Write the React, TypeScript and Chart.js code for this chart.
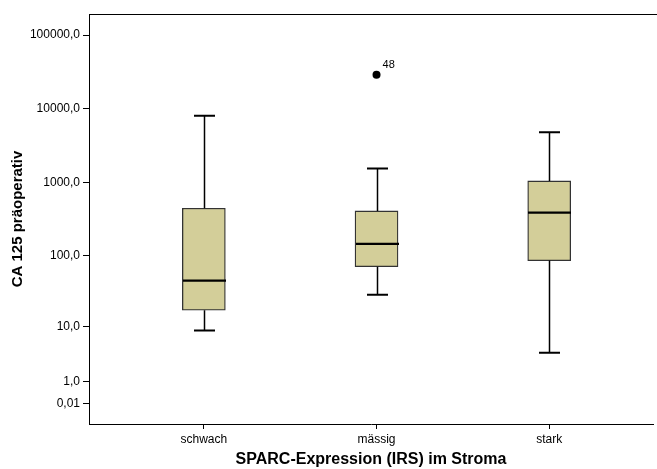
import React, { useEffect, useRef } from 'react';
import { Chart, registerables, LinearScale } from 'chart.js';

// ---- data ----
const CATEGORIES = ['schwach', 'mässig', 'stark'];
const WHISKER_LOW = [8.8, 29, 3.9];
const Q1 = [17.5, 71, 86];
const MEDIAN = [45.5, 146, 388];
const Q3 = [446, 410, 1047];
const WHISKER_HIGH = [8000, 1540, 4800];
const OUTLIER_CATEGORY = [1];
const OUTLIER_VALUE = [29000];
const OUTLIER_LABEL = ['48'];
const Y_TICK_VALUES = [0.01, 1, 10, 100, 1000, 10000, 100000];
const Y_TICK_LABELS = ['0,01', '1,0', '10,0', '100,0', '1000,0', '10000,0', '100000,0'];
const X_TITLE = 'SPARC-Expression (IRS) im Stroma';
const Y_TITLE = 'CA 125 präoperativ';

const BOX_FILL = 'rgb(211,206,153)';
const FONT = "'Liberation Sans', Arial, sans-serif";

// SPSS "safe log" transform: sign(v) * log10(1 + |v|)
const sl = (v: number) => Math.sign(v) * Math.log10(1 + Math.abs(v));
const isl = (t: number) => Math.sign(t) * (Math.pow(10, Math.abs(t)) - 1);

class SafeLogScale extends LinearScale {
  static id = 'safelog';
  static defaults = LinearScale.defaults;
  buildTicks() {
    return Y_TICK_VALUES.map((v) => ({ value: v }));
  }
  getPixelForValue(value: number) {
    const a = sl(this.min as number);
    const b = sl(this.max as number);
    return this.getPixelForDecimal((sl(value) - a) / (b - a));
  }
  getValueForPixel(pixel: number) {
    const a = sl(this.min as number);
    const b = sl(this.max as number);
    return isl(a + this.getDecimalForPixel(pixel) * (b - a));
  }
}

Chart.register(...registerables, SafeLogScale as any);

const boxPlugin = {
  id: 'boxExtras',
  afterDatasetsDraw(chart: any) {
    const { ctx, scales, chartArea } = chart;
    const x = scales.x;
    const y = scales.y;
    const half = 21.5;
    const cap = 10.5;
    ctx.save();
    ctx.strokeStyle = '#000';
    CATEGORIES.forEach((_, i) => {
      const cx = Math.round(x.getPixelForValue(i)) + 0.5;
      const yHi = y.getPixelForValue(WHISKER_HIGH[i]);
      const yQ3 = y.getPixelForValue(Q3[i]);
      const yQ1 = y.getPixelForValue(Q1[i]);
      const yLo = y.getPixelForValue(WHISKER_LOW[i]);
      const yMed = y.getPixelForValue(MEDIAN[i]);
      ctx.lineWidth = 1.5;
      ctx.beginPath();
      ctx.moveTo(cx, yHi);
      ctx.lineTo(cx, yQ3);
      ctx.moveTo(cx, yQ1);
      ctx.lineTo(cx, yLo);
      ctx.stroke();
      ctx.lineWidth = 2;
      ctx.beginPath();
      ctx.moveTo(cx - cap, yHi);
      ctx.lineTo(cx + cap, yHi);
      ctx.moveTo(cx - cap, yLo);
      ctx.lineTo(cx + cap, yLo);
      ctx.stroke();
      ctx.lineWidth = 2.2;
      ctx.beginPath();
      ctx.moveTo(cx - half, yMed);
      ctx.lineTo(cx + half, yMed);
      ctx.stroke();
    });
    ctx.fillStyle = '#000';
    ctx.font = `11px ${FONT}`;
    ctx.textAlign = 'left';
    ctx.textBaseline = 'middle';
    OUTLIER_VALUE.forEach((v, i) => {
      const px = x.getPixelForValue(OUTLIER_CATEGORY[i]);
      const py = y.getPixelForValue(v);
      ctx.fillText(OUTLIER_LABEL[i], px + 6, py - 10);
    });
    ctx.lineWidth = 1;
    ctx.beginPath();
    ctx.moveTo(chartArea.left, Math.round(chartArea.top) + 0.5);
    ctx.lineTo(chart.width, Math.round(chartArea.top) + 0.5);
    ctx.stroke();
    ctx.restore();
  },
};

export default function App() {
  const ref = useRef<HTMLCanvasElement | null>(null);
  useEffect(() => {
    if (!ref.current) return;
    const chart = new Chart(ref.current, {
      type: 'bar',
      data: {
        datasets: [
          {
            type: 'bar',
            data: CATEGORIES.map((_, i) => ({ x: i, y: [Q1[i], Q3[i]] })) as any,
            backgroundColor: BOX_FILL,
            borderColor: '#333',
            borderWidth: 1.3,
            borderSkipped: false,
            barThickness: 43,
          } as any,
          {
            type: 'scatter',
            data: OUTLIER_VALUE.map((v, i) => ({ x: OUTLIER_CATEGORY[i], y: v })),
            pointRadius: 4,
            pointBackgroundColor: '#000',
            pointBorderColor: '#000',
            pointBorderWidth: 0,
          } as any,
        ],
      },
      options: {
        responsive: false,
        animation: false,
        devicePixelRatio: 1,
        layout: { padding: { left: 0, top: 14, right: 0, bottom: 0 } },
        plugins: {
          legend: { display: false },
          tooltip: { enabled: false },
        },
        scales: {
          x: {
            type: 'linear',
            offset: false,
            min: -0.665,
            max: 2.601,
            afterBuildTicks: (s: any) => {
              s.ticks = CATEGORIES.map((_, i) => ({ value: i }));
            },
            afterFit: (s: any) => {
              s.height = 45;
            },
            ticks: {
              autoSkip: false,
              maxRotation: 0,
              padding: 3,
              color: '#000',
              font: { family: FONT, size: 12 },
              callback: (v: any) => CATEGORIES[v as number],
            },
            grid: {
              offset: false,
              drawOnChartArea: false,
              drawTicks: true,
              tickLength: 5,
              tickColor: '#000',
              tickWidth: 1,
            },
            border: { display: true, color: '#000', width: 1 },
            title: {
              display: true,
              text: X_TITLE,
              color: '#000',
              font: { family: FONT, size: 16, weight: 'bold' },
              padding: { top: 0, bottom: 0 },
            },
          } as any,
          y: {
            type: 'safelog' as any,
            min: -0.892,
            max: 192800,
            afterFit: (s: any) => {
              s.width = 89;
            },
            ticks: {
              padding: 3,
              color: '#000',
              font: { family: FONT, size: 12 },
              callback: (_v: any, i: number) => Y_TICK_LABELS[i],
            },
            grid: {
              drawOnChartArea: false,
              drawTicks: true,
              tickLength: 6,
              tickColor: '#000',
              tickWidth: 1,
            },
            border: { display: true, color: '#000', width: 1 },
            title: {
              display: true,
              text: Y_TITLE,
              color: '#000',
              font: { family: FONT, size: 15, weight: 'bold' },
              padding: { top: 9, bottom: 0 },
            },
          } as any,
        },
      },
      plugins: [boxPlugin],
    });
    return () => chart.destroy();
  }, []);
  return (
    <canvas
      ref={ref}
      width={657}
      height={469}
      style={{ position: 'absolute', left: 0, top: 0, width: 657, height: 469 }}
    />
  );
}
